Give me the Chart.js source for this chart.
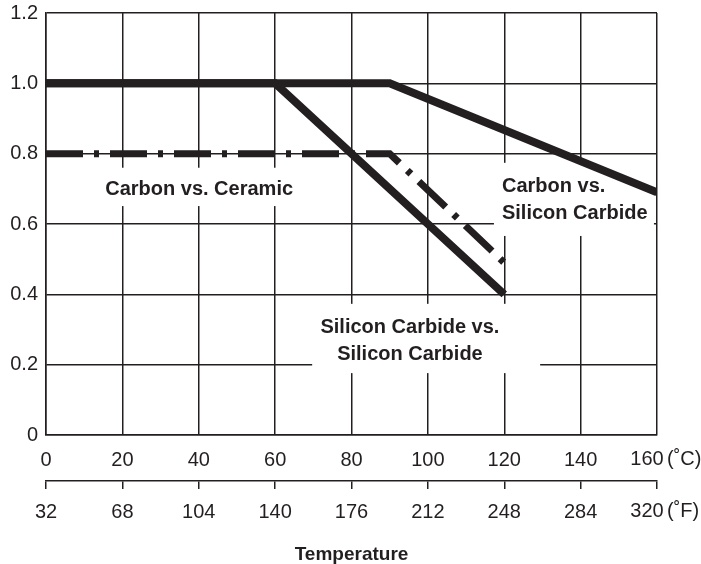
<!DOCTYPE html>
<html>
<head>
<meta charset="utf-8">
<script src="https://cdn.jsdelivr.net/npm/chart.js@4"></script>
<style>
  html, body { margin: 0; padding: 0; background: #fff; }
  #wrap { width: 701px; height: 564px; }
</style>
</head>
<body>
<div id="wrap"><canvas id="chart" width="701" height="564"></canvas></div>
<script>
// temperatures in C
const sicSicTemp = [0, 60, 120];
const sicSicValues = [1.0, 1.0, 0.4];
const carbonSicTemp = [0, 90, 160];
const carbonSicValues = [1.0, 1.0, 0.69];
const carbonCeramicTemp = [0, 90, 120];
const carbonCeramicValues = [0.8, 0.8, 0.49];

const celsiusTicks = [0, 20, 40, 60, 80, 100, 120, 140, 160];
const fahrenheitTicks = [32, 68, 104, 140, 176, 212, 248, 284, 320];
const yTicks = [0, 0.2, 0.4, 0.6, 0.8, 1.0, 1.2];
const yTickLabels = ['0', '0.2', '0.4', '0.6', '0.8', '1.0', '1.2'];

const ink = '#231f20';
const family = '"Liberation Sans", Arial, sans-serif';
const tickFont = { family: family, size: 20 };
const boldFont = 'bold 20px ' + family;

const toPoints = (xs, ys) => xs.map((x, i) => ({ x: x, y: ys[i] }));

// label boxes (white) and their texts, in data units
const notes = [
  { box: [12.8, 0.760, 67.8, 0.651], lines: ['Carbon vs. Ceramic'], x: 40.1, y: 0.698, align: 'center' },
  { box: [117.3, 0.774, 159.2, 0.566], lines: ['Carbon vs.', 'Silicon Carbide'], x: 119.4, y: 0.708, align: 'left' },
  { box: [69.7, 0.373, 129.4, 0.176], lines: ['Silicon Carbide vs.', 'Silicon Carbide'], x: 95.3, y: 0.307, align: 'center' }
];

const notesPlugin = {
  id: 'notes',
  beforeDatasetsDraw(chart) {
    const { ctx, scales: { x, y } } = chart;
    ctx.save();
    ctx.fillStyle = '#fff';
    notes.forEach(n => {
      const x1 = x.getPixelForValue(n.box[0]), y1 = y.getPixelForValue(n.box[1]);
      const x2 = x.getPixelForValue(n.box[2]), y2 = y.getPixelForValue(n.box[3]);
      ctx.fillRect(x1, y1, x2 - x1, y2 - y1);
    });
    ctx.restore();
  },
  afterDatasetsDraw(chart) {
    const { ctx, scales: { x, y } } = chart;
    ctx.save();
    ctx.fillStyle = ink;
    ctx.font = boldFont;
    ctx.textBaseline = 'middle';
    notes.forEach(n => {
      ctx.textAlign = n.align;
      const px = x.getPixelForValue(n.x);
      const py = y.getPixelForValue(n.y);
      n.lines.forEach((t, i) => ctx.fillText(t, px, py + i * 27));
    });
    ctx.restore();
  },
  afterDraw(chart) {
    // last tick labels with their units
    const { ctx, scales: { x, x2 } } = chart;
    ctx.save();
    ctx.fillStyle = ink;
    ctx.font = tickFont.size + 'px ' + family;
    ctx.textBaseline = 'middle';
    const cx = x.getPixelForValue(celsiusTicks[celsiusTicks.length - 1]);
    const fx = x2.getPixelForValue(fahrenheitTicks[fahrenheitTicks.length - 1]);
    ctx.textAlign = 'center';
    ctx.fillText(String(celsiusTicks[celsiusTicks.length - 1]), cx - 10, 459);
    ctx.fillText(String(fahrenheitTicks[fahrenheitTicks.length - 1]), fx - 10, 511);
    ctx.textAlign = 'left';
    ctx.fillText('(˚C)', cx + 10, 459);
    ctx.fillText('(˚F)', fx + 10, 511);
    ctx.restore();
  }
};

const noPad = s => { s.paddingTop = 0; s.paddingBottom = 0; s.paddingLeft = 0; s.paddingRight = 0; };

new Chart(document.getElementById('chart'), {
  type: 'line',
  data: {
    datasets: [
      {
        label: 'Carbon vs. Silicon Carbide',
        data: toPoints(carbonSicTemp, carbonSicValues),
        borderColor: ink, borderWidth: 8, pointRadius: 0, tension: 0
      },
      {
        label: 'Silicon Carbide vs. Silicon Carbide',
        data: toPoints(sicSicTemp, sicSicValues),
        borderColor: ink, borderWidth: 8, pointRadius: 0, tension: 0
      },
      {
        label: 'Carbon vs. Ceramic',
        data: toPoints(carbonCeramicTemp, carbonCeramicValues),
        borderColor: ink, borderWidth: 7, borderDash: [37, 11, 5, 11],
        pointRadius: 0, tension: 0
      }
    ]
  },
  options: {
    responsive: false,
    animation: false,
    layout: { padding: { top: 13, right: 44, bottom: 0, left: 0 } },
    plugins: { legend: { display: false }, tooltip: { enabled: false } },
    scales: {
      x: {
        type: 'linear', position: 'bottom', weight: 0,
        min: 0, max: 160,
        afterBuildTicks: s => { s.ticks = celsiusTicks.map(v => ({ value: v })); },
        afterFit: s => { s.height = 46; noPad(s); },
        grid: { color: ink, lineWidth: 1.5, drawTicks: false },
        border: { color: ink, width: 1.5 },
        ticks: {
          color: ink, font: tickFont, padding: 13, maxRotation: 0, autoSkip: false,
          callback: (v, i) => i === celsiusTicks.length - 1 ? '' : String(celsiusTicks[i])
        }
      },
      x2: {
        type: 'linear', position: 'bottom', weight: 1,
        min: 32, max: 320,
        afterBuildTicks: s => { s.ticks = fahrenheitTicks.map(v => ({ value: v })); },
        afterFit: s => { s.height = 83; noPad(s); },
        grid: { color: ink, lineWidth: 1.5, drawOnChartArea: false, drawTicks: true, tickLength: 8 },
        border: { color: ink, width: 1.5 },
        ticks: {
          color: ink, font: tickFont, padding: 11, maxRotation: 0, autoSkip: false,
          callback: (v, i) => i === fahrenheitTicks.length - 1 ? '' : String(fahrenheitTicks[i])
        },
        title: {
          display: true, text: 'Temperature', color: ink,
          font: { family: family, size: 19, weight: 'bold' },
          padding: { top: 0, bottom: -2 }
        }
      },
      y: {
        min: 0, max: 1.2,
        afterBuildTicks: s => { s.ticks = yTicks.map(v => ({ value: v })); },
        afterFit: s => { s.width = 46; noPad(s); },
        grid: { color: ink, lineWidth: 1.5, drawTicks: false },
        border: { color: ink, width: 1.5 },
        ticks: {
          color: ink, font: tickFont, padding: 8,
          callback: (v, i) => yTickLabels[i]
        }
      }
    }
  },
  plugins: [notesPlugin]
});
</script>
</body>
</html>
